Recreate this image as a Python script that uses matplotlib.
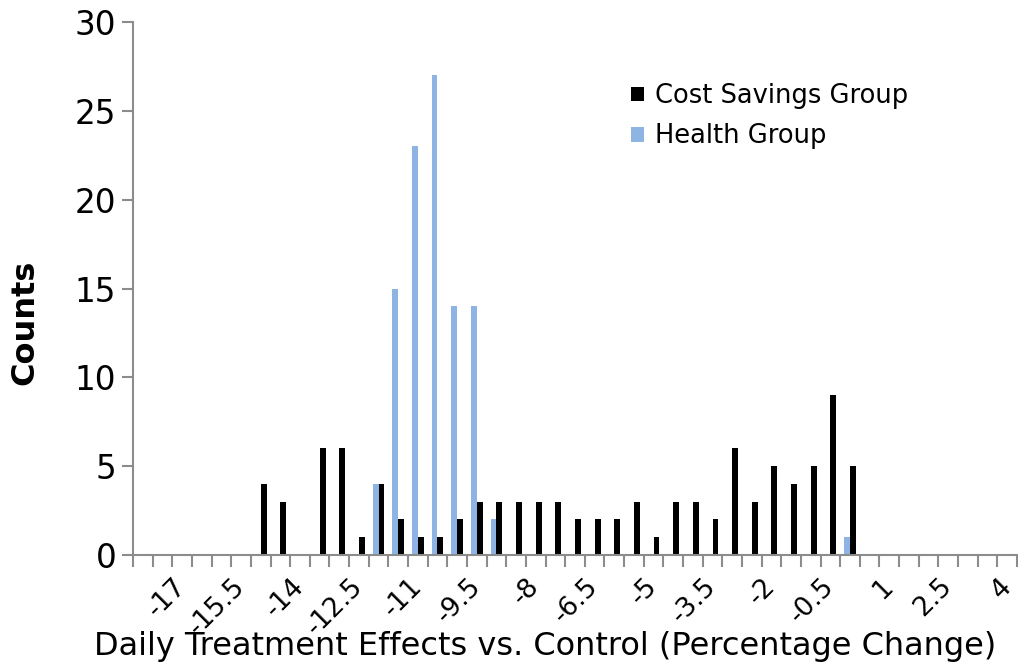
import matplotlib.pyplot as plt
import numpy as np

# Bins of daily treatment effect (percentage change), -18 .. 4 step 0.5
bins = [-18, -17.5, -17, -16.5, -16, -15.5, -15, -14.5, -14, -13.5,
        -13, -12.5, -12, -11.5, -11, -10.5, -10, -9.5, -9, -8.5,
        -8, -7.5, -7, -6.5, -6, -5.5, -5, -4.5, -4, -3.5,
        -3, -2.5, -2, -1.5, -1, -0.5, 0, 0.5, 1, 1.5,
        2, 2.5, 3, 3.5, 4]

cost_savings = [0, 0, 0, 0, 0, 0, 4, 3, 0, 6,
                6, 1, 4, 2, 1, 1, 2, 3, 3, 3,
                3, 3, 2, 2, 2, 3, 1, 3, 3, 2,
                6, 3, 5, 4, 5, 9, 5, 0, 0, 0,
                0, 0, 0, 0, 0]

health = [0, 0, 0, 0, 0, 0, 0, 0, 0, 0,
          0, 0, 4, 15, 23, 27, 14, 14, 2, 0,
          0, 0, 0, 0, 0, 0, 0, 0, 0, 0,
          0, 0, 0, 0, 0, 0, 1, 0, 0, 0,
          0, 0, 0, 0, 0]

label_every = 3
label_start = 2

fig = plt.figure(figsize=(10.18, 6.67), dpi=100)
ax = fig.add_axes([133 / 1018, 1 - 555 / 667, (1017 - 133) / 1018, (555 - 22) / 667])

x = np.arange(len(bins)) + 0.5
w = 0.3
ax.bar(x - w / 2, health, width=w, color="#8eb4e3", label="Health Group", zorder=2)
ax.bar(x + w / 2, cost_savings, width=w, color="black", label="Cost Savings Group", zorder=2)

ax.set_xlim(0, len(bins))
ax.set_ylim(0, 30)
ax.set_yticks(np.arange(0, 31, 5))

# category boundaries get tick marks, labels sit at category centres
ax.set_xticks(np.arange(0, len(bins) + 1))
ax.set_xticklabels([])
lab_idx = list(range(label_start, len(bins), label_every))
ax.set_xticks([i + 0.5 for i in lab_idx], minor=True)
ax.set_xticklabels(["%g" % bins[i] for i in lab_idx], minor=True,
                   rotation=45, ha="right", va="center", rotation_mode="anchor")

gray = "#8c8c8c"
for s in ["top", "right"]:
    ax.spines[s].set_visible(False)
for s in ["left", "bottom"]:
    ax.spines[s].set_color(gray)
    ax.spines[s].set_linewidth(1.5)

ax.tick_params(axis="x", which="major", direction="out", length=8.5, width=1.5, color=gray)
ax.tick_params(axis="x", which="minor", length=0, labelsize=19, pad=20)
ax.tick_params(axis="y", direction="out", length=8, width=1.5, color=gray, labelsize=23.5, pad=4)

fig.text(545 / 1018, 1 - 646 / 667, "Daily Treatment Effects vs. Control (Percentage Change)",
         fontsize=23, ha="center", va="center")
fig.text(25 / 1018, 1 - 322 / 667, "Counts", fontsize=23, fontweight="bold",
         rotation=90, ha="center", va="center")

h, l = ax.get_legend_handles_labels()
ax.legend(h[::-1], l[::-1], loc="upper left", bbox_to_anchor=(0.563, 0.885), frameon=False,
          borderpad=0, borderaxespad=0, fontsize=18.5, handlelength=0.5, handleheight=0.5,
          handletextpad=0.45, labelspacing=0.55)

fig.savefig("out.png", dpi=100)
